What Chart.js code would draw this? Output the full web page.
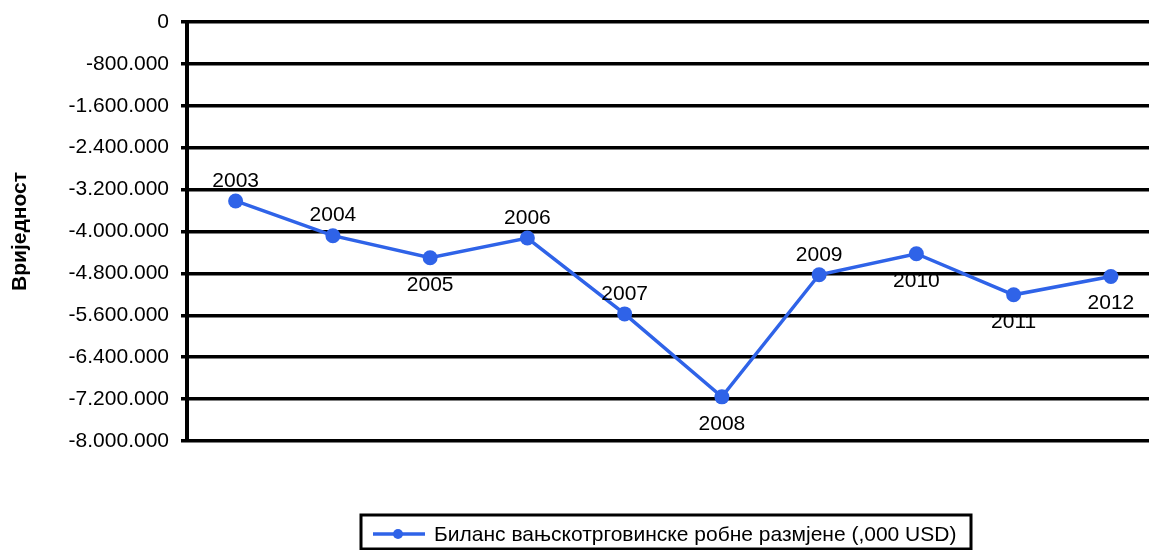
<!DOCTYPE html>
<html>
<head>
<meta charset="utf-8">
<script src="https://cdn.jsdelivr.net/npm/chart.js@4.4.1/dist/chart.umd.min.js"></script>
<style>
    html, body { margin: 0; padding: 0; background: #fff; overflow: hidden; }
    #wrap { width: 1167px; height: 550px; position: relative; }
</style>
</head>
<body>
<div id="wrap"><canvas id="tradeChart"></canvas></div>
<script>
const years = ['2003', '2004', '2005', '2006', '2007', '2008', '2009', '2010', '2011', '2012'];
const balance = [-3417000, -4080000, -4501000, -4125000, -5573000, -7157000, -4826000, -4424000, -5209000, -4859000];
// where the year label sits: true = above the point
const labelAbove = [true, true, false, true, true, false, true, false, false, false];
const seriesName = 'Биланс вањскотрговинске робне размјене (,000 USD)';
const axisTitle = 'Вриједност';

const lineColor = '#2f63e8';
const fontFamily = '"Liberation Sans", Arial, sans-serif';

function formatValue(v) {
    if (v === 0) return '0';
    const sign = v < 0 ? '-' : '';
    return sign + Math.abs(v).toString().replace(/\B(?=(\d{3})+(?!\d))/g, '.');
}

const yearLabels = {
    id: 'yearLabels',
    afterDatasetsDraw(chart) {
        const ctx = chart.ctx;
        const meta = chart.getDatasetMeta(0);
        ctx.save();
        ctx.font = '21px ' + fontFamily;
        ctx.fillStyle = '#000';
        ctx.textAlign = 'center';
        ctx.textBaseline = 'middle';
        meta.data.forEach((pt, i) => {
            const dy = labelAbove[i] ? -20 : 27;
            ctx.fillText(years[i], pt.x, pt.y + dy);
        });
        ctx.restore();
    }
};

const boxLegend = {
    id: 'boxLegend',
    afterDraw(chart) {
        const ctx = chart.ctx;
        const left = 361, top = 515, right = 971, bottom = 549;
        ctx.save();
        ctx.strokeStyle = '#000';
        ctx.lineWidth = 3;
        ctx.strokeRect(left, top, right - left, bottom - top);
        const y = 534;
        ctx.strokeStyle = lineColor;
        ctx.lineWidth = 3.5;
        ctx.beginPath();
        ctx.moveTo(373, y);
        ctx.lineTo(425, y);
        ctx.stroke();
        ctx.fillStyle = lineColor;
        ctx.beginPath();
        ctx.arc(398, y, 5, 0, Math.PI * 2);
        ctx.fill();
        ctx.fillStyle = '#000';
        ctx.font = '21px ' + fontFamily;
        ctx.textAlign = 'left';
        ctx.textBaseline = 'middle';
        ctx.fillText(seriesName, 434, y + 1);
        ctx.restore();
    }
};

new Chart(document.getElementById('tradeChart'), {
    type: 'line',
    data: {
        labels: years,
        datasets: [{
            label: seriesName,
            data: balance,
            borderColor: lineColor,
            backgroundColor: lineColor,
            borderWidth: 3.5,
            pointRadius: 7.5,
            pointHoverRadius: 7.5,
            pointBackgroundColor: lineColor,
            pointBorderWidth: 0,
            tension: 0
        }]
    },
    options: {
        responsive: true,
        maintainAspectRatio: false,
        animation: false,
        layout: {
            padding: { top: 22, right: 4, bottom: 109, left: 4 }
        },
        scales: {
            x: {
                offset: true,
                display: false,
                grid: { display: false }
            },
            y: {
                min: -8000000,
                max: 0,
                afterFit(scale) {
                    scale.width = 183;
                    scale.paddingTop = 0;
                    scale.paddingBottom = 0;
                },
                ticks: {
                    stepSize: 800000,
                    padding: 12,
                    color: '#000',
                    font: { family: fontFamily, size: 21 },
                    callback: (v) => formatValue(v)
                },
                grid: {
                    color: '#000',
                    lineWidth: 3.5,
                    tickLength: 6,
                    drawTicks: true
                },
                border: {
                    display: true,
                    color: '#000',
                    width: 4
                },
                title: {
                    display: true,
                    text: axisTitle,
                    color: '#000',
                    font: { family: fontFamily, size: 21, weight: 'bold' },
                    padding: { top: 4, bottom: 4 }
                }
            }
        },
        plugins: {
            legend: { display: false },
            tooltip: { enabled: false }
        }
    },
    plugins: [yearLabels, boxLegend]
});
</script>
</body>
</html>
